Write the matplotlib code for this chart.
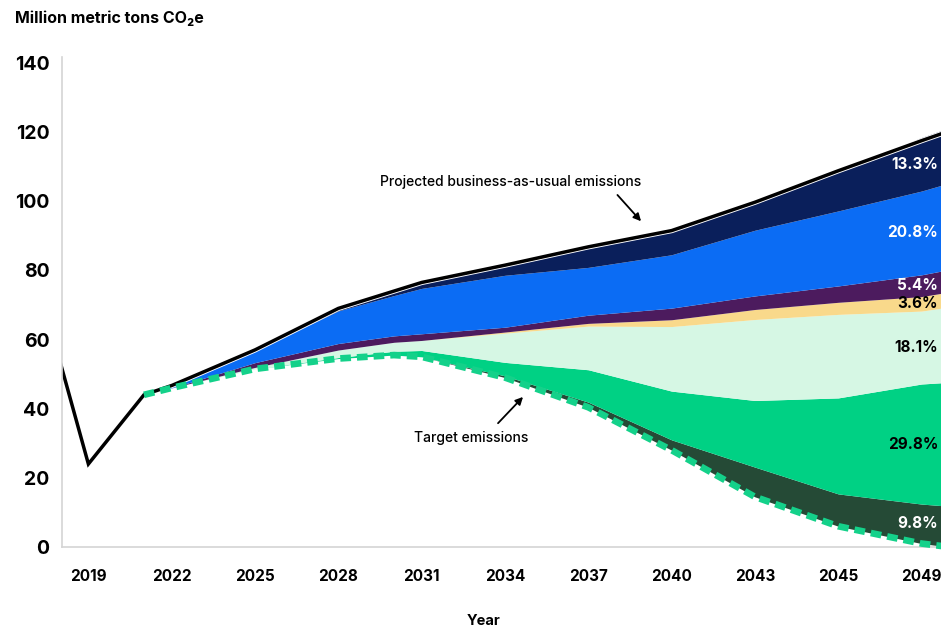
import numpy as np
import matplotlib
matplotlib.use("Agg")
import matplotlib.pyplot as plt
import matplotlib.patheffects as pe

plt.rcParams['font.family'] = ['Inter', 'DejaVu Sans']

# historical emissions before the projection starts
hist_years = [2018, 2019, 2021]
hist_values = [53, 24, 44]

# projection grid
years = [2021, 2022, 2025, 2028, 2030, 2031, 2034, 2037, 2040, 2043, 2046, 2049, 2050]
bau = [44, 46.7, 57, 69, 74, 76.5, 81.5, 86.8, 91.5, 99.7, 108.8, 117.5, 120.3]
target = [44, 46, 51.5, 54.5, 55.5, 55, 49, 40.4, 28, 14.5, 6, 1, 0]

# share of the gap (bau - target) closed by each wedge, in %, bottom to top
share_dkgreen = [0, 0, 0, 0, 0, 0, 1.5, 3.2, 4.7, 10.1, 9.1, 9.8, 9.8]
share_green = [0, 0, 0, 2, 6, 8.5, 12, 20.2, 22.2, 22.6, 27.0, 29.8, 29.8]
share_mint = [0, 0, 8, 15, 14, 13.5, 26, 27.2, 29.4, 27.5, 23.5, 18.1, 18.1]
share_yellow = [0, 0, 0, 0, 0, 0, 1, 1.7, 3.1, 3.4, 3.4, 3.6, 3.6]
share_purple = [0, 0, 25, 13, 10, 9, 4.3, 5.1, 5.3, 4.6, 4.6, 5.4, 5.4]
share_blue = [100, 100, 67, 65, 63, 61, 46.2, 29.8, 24.3, 22.3, 21.1, 20.8, 20.8]
share_navy = [0, 0, 0, 5, 7, 8, 9, 12.8, 11, 9.5, 11.3, 13.3, 13.3]
shares = [share_dkgreen, share_green, share_mint, share_yellow,
          share_purple, share_blue, share_navy]
colors = ['#254a36', '#00d184', '#d6f7e4', '#f9d98b', '#4c1b5e', '#0b6cf4', '#0a1f5b']

end_labels = ['9.8%', '29.8%', '18.1%', '3.6%', '5.4%', '20.8%', '13.3%']
label_colors = ['white', 'black', 'black', 'black', 'white', 'white', 'white']

tick_years = np.arange(2019, 2050, 3)
tick_labels = ['2019', '2022', '2025', '2028', '2031', '2034',
               '2037', '2040', '2043', '2045', '2049']

years = np.array(years, dtype=float)
bau = np.array(bau)
target = np.array(target)
gap = bau - target

fig = plt.figure(figsize=(9.41, 6.27), dpi=100)
ax = fig.add_axes([62 / 941, 1 - 547 / 627, 1 - 62 / 941, (547 - 57) / 627])

# stacked wedges sitting on the target line
lower = target.copy()
for share, color in zip(shares, colors):
    upper = lower + np.array(share) / 100 * gap
    ax.fill_between(years, lower, upper, color=color, lw=0)
    lower = upper

# business-as-usual line with a thin white edge
bau_x = np.concatenate([hist_years[:-1], years])
bau_y = np.concatenate([hist_values[:-1], bau])
ax.plot(bau_x, bau_y, color='black', lw=2.5, solid_joinstyle='miter',
        path_effects=[pe.Stroke(linewidth=3.8, foreground='white'), pe.Normal()])

# target pathway
ax.plot(years, target, color='#14d18a', lw=4.8, linestyle=(0, (1.6, 0.9)),
        dash_capstyle='butt', clip_on=False, zorder=5)

# value labels at the right edge, centred in each wedge at 2049
i49 = list(years).index(2049)
lower49 = target[i49]
for share, lab, tc in zip(shares, end_labels, label_colors):
    h = share[i49] / 100 * gap[i49]
    ax.text(2049.6, lower49 + h / 2, lab, ha='right', va='center',
            fontsize=11, fontweight='bold', color=tc)
    lower49 += h

arrow = dict(arrowstyle='-|>', color='black', lw=1.3, shrinkA=0, shrinkB=0,
             mutation_scale=11)
ax.text(2034.2, 105.5, 'Projected business-as-usual emissions', ha='center',
        va='center', fontsize=10, fontweight='medium')
ax.annotate('', xy=(2038.9, 94.2), xytext=(2038.05, 101.8), arrowprops=arrow)
ax.text(2032.8, 31.6, 'Target emissions', ha='center', va='center',
        fontsize=10, fontweight='medium')
ax.annotate('', xy=(2034.65, 43.4), xytext=(2033.75, 35.8), arrowprops=arrow)

ax.set_xlim(2018.05, 2049.7)
ax.set_ylim(0, 141.7)
ax.set_yticks(np.arange(0, 141, 20))
ax.set_xticks(tick_years)
ax.set_xticklabels(tick_labels)
for lab in ax.get_yticklabels():
    lab.set_fontsize(14)
    lab.set_fontweight('bold')
for lab in ax.get_xticklabels():
    lab.set_fontsize(11)
    lab.set_fontweight('bold')
ax.tick_params(axis='y', length=0, pad=9)
ax.tick_params(axis='x', length=0, pad=16)

for side in ['top', 'right']:
    ax.spines[side].set_visible(False)
for side in ['left', 'bottom']:
    ax.spines[side].set_color('#d4d4d4')
    ax.spines[side].set_linewidth(1.2)

fig.text(15 / 941, 1 - 18 / 627, 'Million metric tons CO₂e', ha='left', va='center',
         fontsize=11.5, fontweight='bold')
fig.text(484 / 941, 1 - 621 / 627, 'Year', ha='center', va='center',
         fontsize=10.5, fontweight='bold')

fig.savefig('out.png', dpi=100)
